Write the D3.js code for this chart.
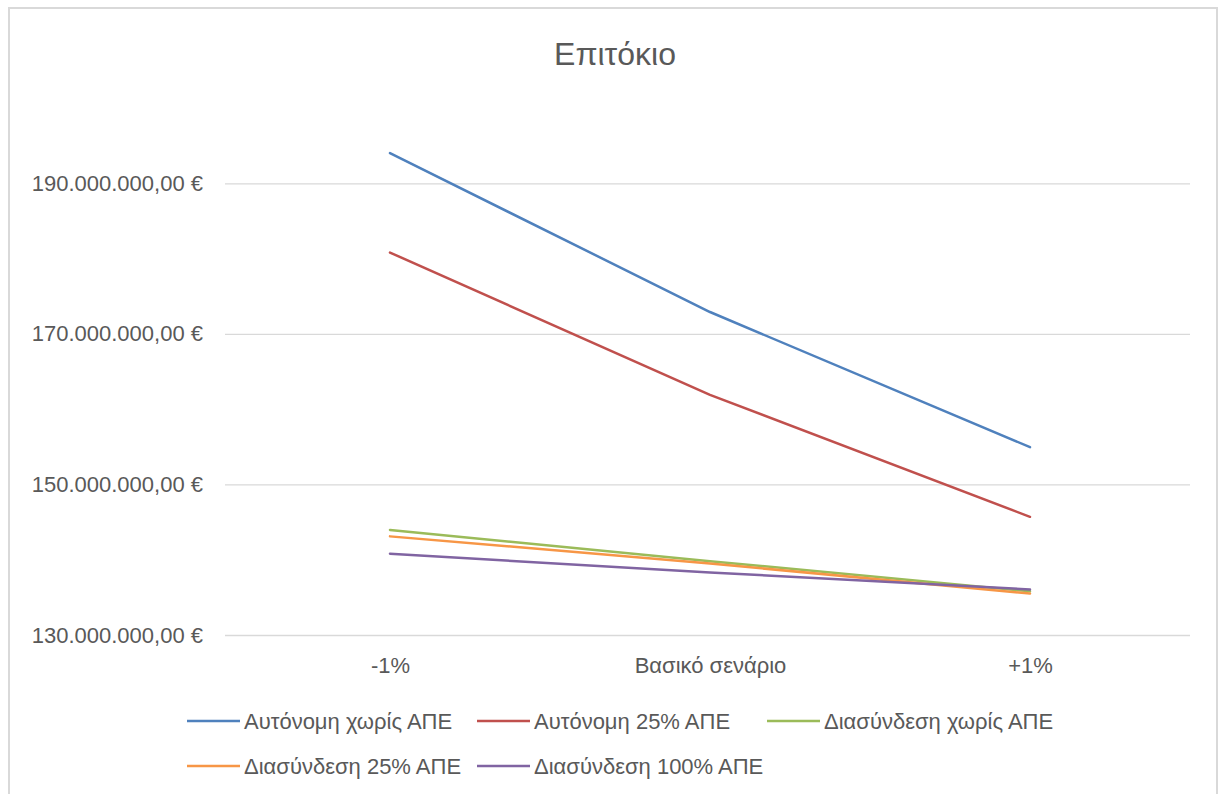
<!DOCTYPE html>
<html>
<head>
<meta charset="utf-8">
<script src="https://cdn.jsdelivr.net/npm/d3@7"></script>
<style>
  html, body { margin: 0; padding: 0; background: #ffffff; }
  svg { display: block; font-family: "Liberation Sans", Arial, sans-serif; }
</style>
</head>
<body>
<svg id="chart" width="1219" height="794"></svg>
<script>
// Scenario categories on the x axis
const categories = ["-1%", "Βασικό σενάριο", "+1%"];

// Series names and their values (€) per scenario
const seriesNames = [
  "Αυτόνομη χωρίς ΑΠΕ",
  "Αυτόνομη 25% ΑΠΕ",
  "Διασύνδεση χωρίς ΑΠΕ",
  "Διασύνδεση 25% ΑΠΕ",
  "Διασύνδεση 100% ΑΠΕ"
];
const autonomousNoRes   = [194000000, 172900000, 154950000];
const autonomous25Res   = [180800000, 161900000, 145700000];
const connectedNoRes    = [143950000, 139800000, 135800000];
const connected25Res    = [143100000, 139500000, 135500000];
const connected100Res   = [140800000, 138300000, 136050000];
const seriesValues = [autonomousNoRes, autonomous25Res, connectedNoRes, connected25Res, connected100Res];

// Y axis tick values
const yTicks = [130000000, 150000000, 170000000, 190000000];

const colors = ["#4F81BD", "#C0504D", "#9BBB59", "#F79646", "#8064A2"];

const svg = d3.select("#chart");
const textColor = "#595959";

// chart frame
svg.append("rect")
  .attr("x", 9).attr("y", 8)
  .attr("width", 1208).attr("height", 800)
  .attr("fill", "#ffffff")
  .attr("stroke", "#d9d9d9").attr("stroke-width", 2);

// title
svg.append("text")
  .attr("x", 615).attr("y", 65)
  .attr("text-anchor", "middle")
  .attr("font-size", 32)
  .attr("fill", textColor)
  .text("Επιτόκιο");

const plot = { left: 230, right: 1190, top: 108, bottom: 635 };

const x = d3.scalePoint()
  .domain(categories)
  .range([plot.left, plot.right])
  .padding(0.5);

const y = d3.scaleLinear()
  .domain([130000000, 200000000])
  .range([plot.bottom, plot.top]);

// number format: 190.000.000,00 €
const euro = d3.formatLocale({
  decimal: ",", thousands: ".", grouping: [3], currency: ["", " €"]
}).format("$,.2f");

// horizontal gridlines and y labels
const yAxis = d3.axisLeft(y)
  .tickValues(yTicks)
  .tickSize(-(plot.right - plot.left + 5))
  .tickPadding(22)
  .tickFormat(euro);

const gy = svg.append("g")
  .attr("transform", `translate(${plot.left - 5},0)`)
  .call(yAxis);
gy.select(".domain").remove();
gy.selectAll(".tick line").attr("stroke", "#d9d9d9").attr("stroke-width", 1.3);
gy.selectAll(".tick text")
  .attr("font-size", 22)
  .attr("fill", textColor)
  .attr("font-family", "'Liberation Sans', Arial, sans-serif");

// category labels
const xAxis = d3.axisBottom(x).tickSize(0).tickPadding(22);
const gx = svg.append("g")
  .attr("transform", `translate(0,${plot.bottom})`)
  .call(xAxis);
gx.select(".domain").remove();
gx.selectAll(".tick text")
  .attr("font-size", 22)
  .attr("fill", textColor)
  .attr("font-family", "'Liberation Sans', Arial, sans-serif");

// series lines
const line = d3.line()
  .x((d, i) => x(categories[i]))
  .y(d => y(d));

svg.append("g")
  .selectAll("path")
  .data(seriesValues)
  .join("path")
  .attr("d", d => line(d))
  .attr("fill", "none")
  .attr("stroke", (d, i) => colors[i])
  .attr("stroke-width", 2.5)
  .attr("stroke-linejoin", "round")
  .attr("stroke-linecap", "round");

// legend
const legendSlots = [
  { x: 187, y: 721 }, { x: 477, y: 721 }, { x: 767, y: 721 },
  { x: 187, y: 766 }, { x: 477, y: 766 }
];
const legend = svg.append("g")
  .selectAll("g")
  .data(seriesNames)
  .join("g")
  .attr("transform", (d, i) => `translate(${legendSlots[i].x},${legendSlots[i].y})`);

legend.append("line")
  .attr("x1", 0).attr("x2", 53)
  .attr("y1", 0).attr("y2", 0)
  .attr("stroke", (d, i) => colors[i])
  .attr("stroke-width", 2.5);

legend.append("text")
  .attr("x", 57).attr("y", 8)
  .attr("font-size", 22)
  .attr("fill", textColor)
  .text(d => d);
</script>
</body>
</html>
